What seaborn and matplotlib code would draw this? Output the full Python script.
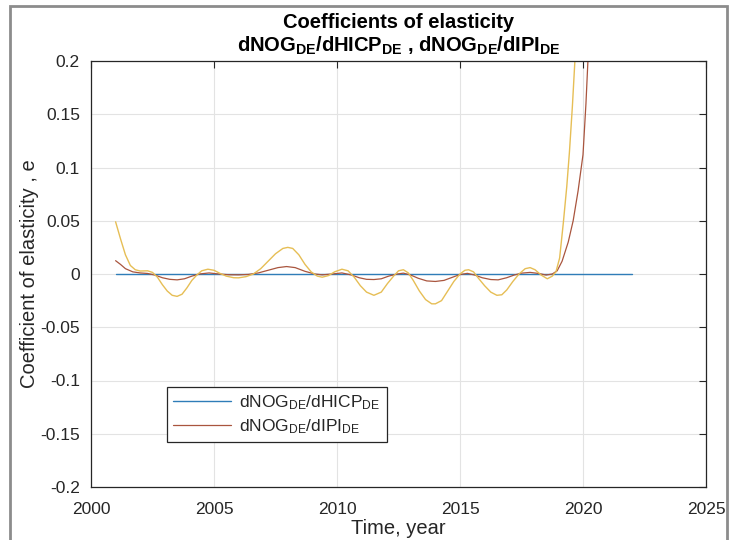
import numpy as np
import pandas as pd
import matplotlib
matplotlib.use("Agg")
import matplotlib.pyplot as plt
import seaborn as sns
from matplotlib.patches import Rectangle

# ---------------- data ----------------
blue_years = list(range(2001, 2023))
blue_vals = [0.0] * len(blue_years)

brown_years = [2001.0, 2001.2, 2001.4, 2001.7, 2002.0, 2002.3, 2002.6, 2002.9, 2003.2, 2003.5,
               2003.8, 2004.1, 2004.4, 2004.8, 2005.2, 2005.6, 2006.0, 2006.4, 2006.8, 2007.2,
               2007.6, 2007.95, 2008.3, 2008.7, 2009.1, 2009.4, 2009.8, 2010.2, 2010.6, 2010.9,
               2011.2, 2011.5, 2011.8, 2012.1, 2012.45, 2012.7, 2013.0, 2013.3, 2013.65, 2014.0,
               2014.35, 2014.7, 2015.0, 2015.3, 2015.6, 2015.9, 2016.25, 2016.55, 2016.9, 2017.2,
               2017.5, 2017.85, 2018.2, 2018.5, 2018.75, 2018.95, 2019.15, 2019.4, 2019.6, 2019.8,
               2020.0, 2020.12, 2020.2, 2020.4, 2020.7, 2021.2, 2022.0]
brown_vals = [0.0125, 0.009, 0.005, 0.002, 0.001, 0.0005, -0.001, -0.0035, -0.005, -0.0055,
              -0.0045, -0.002, 0.0, 0.001, 0.0, -0.0007, -0.0008, -0.0004, 0.001, 0.0035,
              0.006, 0.007, 0.006, 0.0025, 0.0, -0.0008, 0.0, 0.001, -0.001, -0.0035,
              -0.005, -0.0052, -0.0045, -0.002, 0.0, 0.0008, -0.001, -0.004, -0.0065, -0.007,
              -0.006, -0.003, -0.0005, 0.0006, -0.001, -0.0035, -0.0052, -0.0055, -0.0035, -0.001,
              0.0008, 0.0015, 0.0005, -0.001, 0.0, 0.003, 0.012, 0.030, 0.05, 0.078,
              0.112, 0.16, 0.2, 0.32, 0.55, 1.0, 2.0]

yellow_years = [2001.0, 2001.2, 2001.4, 2001.6, 2001.8, 2002.0, 2002.3, 2002.5, 2002.7, 2002.9,
                2003.1, 2003.3, 2003.5, 2003.7, 2003.9, 2004.1, 2004.3, 2004.5, 2004.75, 2005.0,
                2005.25, 2005.5, 2005.8, 2006.0, 2006.3, 2006.6, 2006.9, 2007.2, 2007.5, 2007.8,
                2008.0, 2008.2, 2008.45, 2008.7, 2008.95, 2009.2, 2009.4, 2009.65, 2009.9, 2010.2,
                2010.45, 2010.7, 2010.95, 2011.2, 2011.5, 2011.8, 2012.05, 2012.3, 2012.5, 2012.7,
                2012.9, 2013.1, 2013.35, 2013.6, 2013.85, 2014.0, 2014.25, 2014.5, 2014.75, 2015.0,
                2015.2, 2015.35, 2015.55, 2015.75, 2016.0, 2016.25, 2016.5, 2016.7, 2016.9, 2017.15,
                2017.4, 2017.65, 2017.85, 2018.05, 2018.3, 2018.55, 2018.75, 2018.9, 2019.05, 2019.2,
                2019.34, 2019.45, 2019.57, 2019.67, 2019.8, 2020.0, 2020.5, 2021.0, 2022.0]
yellow_vals = [0.049, 0.033, 0.018, 0.008, 0.004, 0.0028, 0.003, 0.0015, -0.003, -0.010,
               -0.016, -0.020, -0.021, -0.019, -0.013, -0.006, -0.001, 0.003, 0.0045, 0.0035,
               0.0005, -0.002, -0.0035, -0.0036, -0.0025, 0.0, 0.005, 0.012, 0.019, 0.024,
               0.025, 0.024, 0.018, 0.009, 0.002, -0.002, -0.003, -0.0015, 0.002, 0.0045,
               0.003, -0.003, -0.011, -0.017, -0.020, -0.017, -0.009, -0.002, 0.003, 0.004,
               0.001, -0.006, -0.016, -0.024, -0.028, -0.028, -0.025, -0.016, -0.007, 0.0,
               0.0035, 0.004, 0.002, -0.004, -0.011, -0.017, -0.020, -0.0195, -0.015, -0.007,
               0.0, 0.005, 0.006, 0.004, -0.001, -0.0045, -0.002, 0.002, 0.015, 0.048,
               0.082, 0.115, 0.158, 0.2, 0.27, 0.4, 0.9, 1.6, 3.0]

x_ticks = [2000, 2005, 2010, 2015, 2020, 2025]
y_ticks = [-0.2, -0.15, -0.1, -0.05, 0, 0.05, 0.1, 0.15, 0.2]
y_ticklabels = ["-0.2", "-0.15", "-0.1", "-0.05", "0", "0.05", "0.1", "0.15", "0.2"]

label_hicp = r"dNOG$_{\mathrm{DE}}$/dHICP$_{\mathrm{DE}}$"
label_ipi = r"dNOG$_{\mathrm{DE}}$/dIPI$_{\mathrm{DE}}$"
title_text = "Coefficients of elasticity\n" + \
    r"dNOG$_{\mathbf{DE}}$/dHICP$_{\mathbf{DE}}$ , dNOG$_{\mathbf{DE}}$/dIPI$_{\mathbf{DE}}$"

# ---------------- style ----------------
sns.set_theme(style="white")
plt.rcParams["font.family"] = ["Liberation Sans", "DejaVu Sans"]
plt.rcParams["mathtext.fontset"] = "custom"
plt.rcParams["mathtext.rm"] = "Liberation Sans"
plt.rcParams["mathtext.it"] = "Liberation Sans:italic"
plt.rcParams["mathtext.bf"] = "Liberation Sans:bold"

c_blue = "#2F7DB8"
c_brown = "#A9553E"
c_yellow = "#E6BE55"

fig = plt.figure(figsize=(7.31, 5.40), dpi=100)
ax = fig.add_axes([91 / 731, 1 - 487 / 540, (706 - 91) / 731, (487 - 61) / 540])

df_b = pd.DataFrame({"year": blue_years, "e": blue_vals})
df_r = pd.DataFrame({"year": brown_years, "e": brown_vals})
df_y = pd.DataFrame({"year": yellow_years, "e": yellow_vals})

sns.lineplot(data=df_b, x="year", y="e", ax=ax, color=c_blue, lw=1.0, label=label_hicp)
sns.lineplot(data=df_r, x="year", y="e", ax=ax, color=c_brown, lw=0.9, label=label_ipi)
sns.lineplot(data=df_y, x="year", y="e", ax=ax, color=c_yellow, lw=1.0, label="_nolegend_")

ax.set_xlim(2000, 2025)
ax.set_ylim(-0.2, 0.2)
ax.set_xticks(x_ticks)
ax.set_xticklabels([str(t) for t in x_ticks])
ax.set_yticks(y_ticks)
ax.set_yticklabels(y_ticklabels)
ax.grid(True, color="#e3e3e3", lw=0.8)
ax.tick_params(direction="in", length=5, width=0.8, colors="#262626", labelsize=12.5,
               top=True, right=True)
ax.tick_params(axis="x", pad=11)
ax.tick_params(axis="y", pad=8)
for sp in ax.spines.values():
    sp.set_color("#262626")
    sp.set_linewidth(0.9)

ax.set_xlabel("Time, year", fontsize=14.5, color="#262626", labelpad=1)
ax.set_ylabel("Coefficient of elasticity , e", fontsize=14.5, color="#262626", labelpad=1)
ax.set_title(title_text, fontsize=14.5, fontweight="bold", color="#000000", pad=7,
             linespacing=1.15)

leg = ax.legend(loc="lower left", bbox_to_anchor=(0.124, 0.106), fontsize=12.5,
                frameon=True, fancybox=False, framealpha=1, edgecolor="#262626",
                handlelength=3.3, handletextpad=0.5, borderpad=0.35, labelspacing=0.3,
                borderaxespad=0)
leg.get_frame().set_linewidth(0.9)

# figure window border
fig.add_artist(Rectangle((10 / 731, -0.1), (727 - 10) / 731, 1.1 - 6 / 540,
                         transform=fig.transFigure, fill=False, edgecolor="#8c8c8c", lw=2))

fig.savefig("out.png", dpi=100)
